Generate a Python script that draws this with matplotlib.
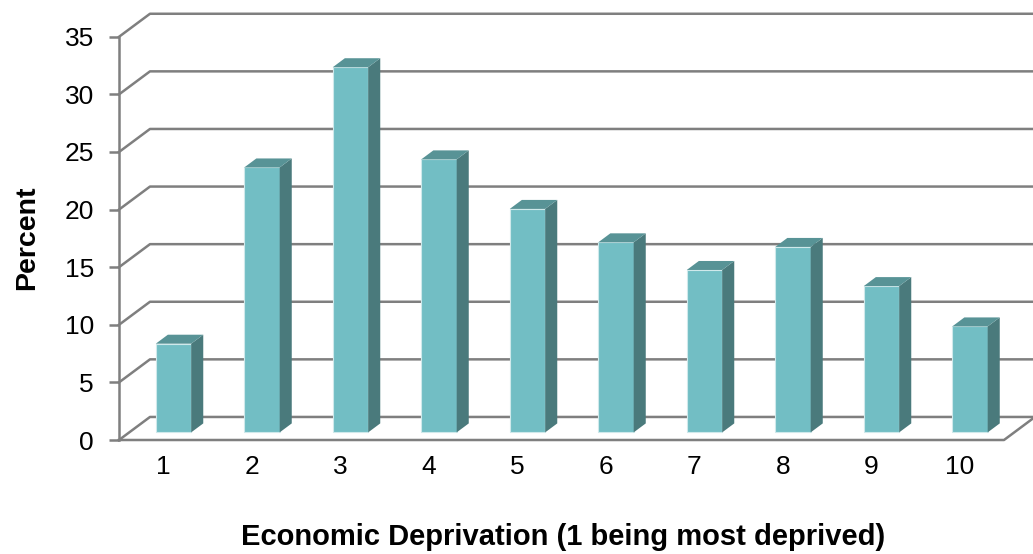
import numpy as np
import matplotlib.pyplot as plt

plt.rcParams['font.family'] = ['Liberation Sans', 'DejaVu Sans']

# Data
categories = ['1', '2', '3', '4', '5', '6', '7', '8', '9', '10']
percent = [7.7, 23.0, 31.7, 23.7, 19.4, 16.5, 14.1, 16.1, 12.7, 9.2]
y_ticks = [0, 5, 10, 15, 20, 25, 30, 35]

# 3D look: depth offset (x in category units, y in value units)
DX, DY = 0.35, 2.0
d0, d1 = 0.33, 0.72   # bar front/back depth fraction
bar_w = 0.40

front_col = '#72bec4'
side_col = '#4a7a7c'
top_col = '#589396'
grid_col = '#7f7f7f'

fig = plt.figure(figsize=(10.33, 5.54), dpi=100)
ax = fig.add_axes([119 / 1033, 114 / 554, 1 - 119 / 1033, 440 / 554])
n = len(categories)
x = np.arange(1, n + 1)
ax.set_xlim(0.5, 0.5 + 914 / 88.5)
ax.set_ylim(0, 440 / 11.52)
for s in ax.spines.values():
    s.set_visible(False)

# walls / gridlines
for v in y_ticks:
    ax.plot([0.5, 0.5 + DX, 10.5 + DX + 0.2], [v, v + DY, v + DY],
            color=grid_col, lw=1.8, clip_on=False, zorder=1)
ax.plot([0.5, 10.5, 10.5 + DX], [0, 0, DY], color=grid_col, lw=1.8,
        clip_on=False, zorder=1)
ax.plot([0.5, 0.5], [0, y_ticks[-1]], color=grid_col, lw=1.8,
        clip_on=False, zorder=1)

# bars
for xi, h in zip(x, percent):
    xl = xi - bar_w / 2 + d0 * DX
    xr = xl + bar_w
    yb = d0 * DY
    ddx = (d1 - d0) * DX
    ddy = (d1 - d0) * DY
    ax.fill([xl, xr, xr, xl], [yb, yb, yb + h, yb + h], color=front_col,
            ec='#cfe9eb', lw=0.8, zorder=3)
    ax.fill([xr, xr + ddx, xr + ddx, xr], [yb, yb + ddy, yb + h + ddy, yb + h],
            color=side_col, lw=0, zorder=3)
    ax.fill([xl, xr, xr + ddx, xl + ddx], [yb + h, yb + h, yb + h + ddy, yb + h + ddy],
            color=top_col, lw=0, zorder=3)

ax.set_yticks(y_ticks)
ax.set_xticks(x)
ax.set_xticklabels(categories)
ax.tick_params(axis='y', length=7, width=1.8, color=grid_col, pad=11, labelsize=19)
ax.tick_params(axis='x', length=0, pad=11, labelsize=19)

fig.text(0.545, 0.031, 'Economic Deprivation (1 being most deprived)', ha='center',
         va='center', fontsize=21, fontweight='bold')
fig.text(0.026, 0.57, 'Percent', ha='center', va='center', rotation=90,
         fontsize=20.5, fontweight='bold')

fig.savefig('out.png', dpi=100)
